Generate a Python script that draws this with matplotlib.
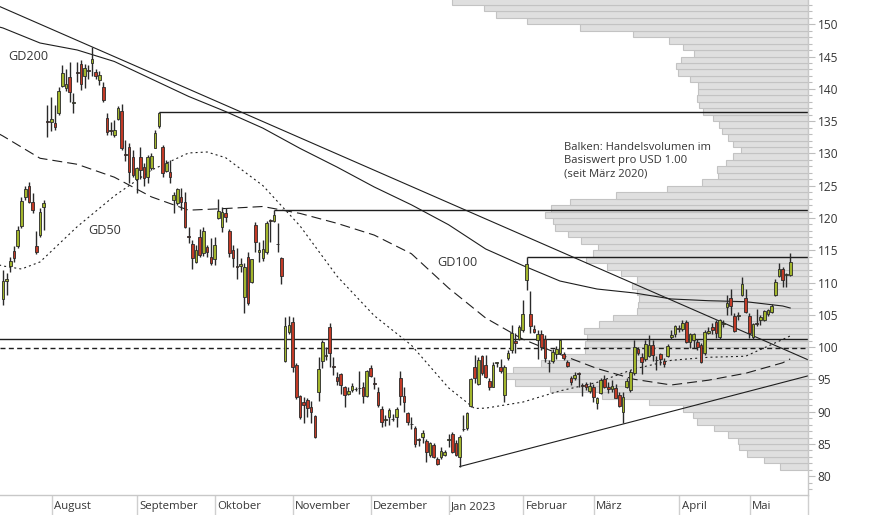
import numpy as np
import pandas as pd
import matplotlib
matplotlib.use("Agg")
import matplotlib.pyplot as plt

plt.rcParams['font.family'] = ['Open Sans', 'DejaVu Sans']

# trading days shown (US calendar)
holidays = ["2022-09-05", "2022-11-24", "2022-12-26", "2023-01-02",
            "2023-01-16", "2023-02-20", "2023-04-07"]
dates = pd.bdate_range("2022-07-12", "2023-05-15", freq="C", holidays=holidays)

month_labels = ["August", "September", "Oktober", "November", "Dezember",
                "Jan 2023", "Februar", "März", "April", "Mai"]

# daily candles
opens = [107.5, 110.2, 112.5, 114.9, 115.7, 118.7, 123.2, 125.0, 122.5, 115.7,
         117.3, 121.7, 135.0, 134.9, 134.7, 136.2, 140.5, 140.1, 141.9, 137.8,
         142.6, 143.9, 142.0, 142.9, 144.0, 142.6, 141.3, 140.3, 135.5, 133.6,
         132.9, 135.3, 136.5, 129.9, 131.05, 129.4, 126.0, 129.4, 127.85, 126.3,
         127.7, 130.9, 134.2, 130.95, 127.3, 127.2, 122.8, 122.3, 123.3, 122.4,
         117.2, 116.0, 113.2, 117.0, 114.53, 115.46, 114.0, 113.6, 119.95, 118.56,
         120.83, 118.04, 115.05, 112.6, 112.5, 107.82, 113.9, 110.14, 118.92, 114.8,
         113.86, 114.79, 119.6, 119.6, 115.95, 113.76, 97.9, 102.4, 103.85, 97.24,
         92.43, 91.56, 91.8, 90.68, 89.34, 93.0, 97.9, 98.6, 103.17, 97.0,
         95.33, 95.84, 93.88, 92.75, 93.36, 93.45, 93.6, 93.88, 92.49, 96.82,
         94.4, 93.0, 90.37, 88.7, 89.23, 88.85, 89.23, 95.17, 92.43, 89.75,
         88.1, 87.53, 85.65, 86.13, 85.46, 83.3, 84.84, 82.62, 82.93, 83.3,
         85.6, 86.54, 85.2, 83.04, 87.25, 87.42, 90.88, 96.97, 94.3, 98.63,
         97.23, 94.8, 93.88, 97.55, 96.97, 92.59, 98.26, 99.56, 101.0, 101.2,
         102.65, 110.4, 105.14, 102.81, 101.11, 102.04, 101.21, 97.55, 97.9, 98.94,
         99.15, 98.89, 97.75, 95.17, 95.17, 95.95, 94.0, 94.24, 93.21, 93.88,
         91.41, 92.84, 95.0, 93.87, 93.5, 93.72, 92.58, 90.0, 93.87, 93.36,
         95.94, 99.71, 98.42, 98.1, 98.68, 100.33, 98.05, 98.94, 97.9, 98.63,
         101.52, 102.03, 102.95, 102.76, 103.94, 100.84, 101.1, 100.84, 100.33, 99.04,
         102.14, 103.17, 103.94, 101.62, 103.65, 106.16, 107.55, 104.82, 104.8, 108.07,
         107.55, 104.82, 101.52, 103.7, 104.2, 104.2, 105.13, 105.49, 108.07, 111.01,
         112.05, 111.15, 111.17]
highs = [112.0, 111.5, 114.0, 115.6, 118.7, 123.3, 125.0, 125.5, 123.8, 118.0,
         121.5, 122.8, 137.5, 138.8, 137.5, 140.3, 143.7, 143.0, 144.1, 139.3,
         144.2, 144.5, 143.85, 143.7, 146.5, 143.0, 142.7, 141.0, 136.2, 134.9,
         135.2, 137.3, 137.7, 132.1, 131.6, 130.5, 127.95, 131.05, 128.5, 129.8,
         130.0, 133.7, 136.37, 131.3, 129.0, 129.0, 124.1, 124.7, 124.6, 124.1,
         118.65, 116.6, 115.8, 118.25, 118.66, 115.8, 116.85, 117.1, 122.9, 121.76,
         121.5, 118.25, 115.8, 115.3, 113.76, 113.1, 114.8, 113.7, 119.4, 116.34,
         116.6, 119.6, 119.85, 121.24, 119.28, 114.0, 104.7, 104.8, 104.7, 97.6,
         92.59, 92.33, 92.1, 91.7, 89.5, 98.5, 101.1, 99.97, 103.79, 98.53,
         96.2, 96.05, 93.98, 93.9, 94.5, 93.8, 96.3, 94.65, 96.5, 97.24,
         95.43, 93.88, 90.9, 89.5, 90.5, 89.6, 90.7, 96.3, 93.77, 90.0,
         89.2, 87.8, 86.0, 87.2, 85.7, 85.36, 85.1, 83.04, 84.5, 84.1,
         86.5, 86.9, 85.6, 86.4, 89.5, 90.0, 95.2, 98.78, 98.5, 98.8,
         98.78, 95.17, 97.7, 97.75, 98.1, 97.23, 99.5, 103.43, 102.14, 103.4,
         107.3, 114.0, 108.75, 103.4, 102.66, 102.66, 101.9, 98.0, 99.7, 100.1,
         101.2, 99.3, 98.0, 95.53, 96.2, 96.2, 94.4, 94.65, 94.65, 94.3,
         92.33, 95.2, 95.68, 94.65, 94.9, 94.3, 93.1, 93.1, 95.2, 96.45,
         101.1, 99.97, 99.04, 101.1, 101.9, 101.1, 98.6, 99.14, 98.3, 100.5,
         102.65, 103.4, 103.43, 104.2, 104.2, 102.14, 102.14, 101.2, 100.59, 102.65,
         103.17, 103.68, 104.2, 104.3, 104.2, 108.07, 108.95, 105.33, 105.5, 110.91,
         108.95, 105.23, 103.79, 105.85, 104.97, 105.75, 105.9, 106.7, 110.5, 113.08,
         112.36, 111.53, 114.63]
lows = [106.5, 108.0, 111.7, 113.2, 115.3, 118.4, 122.8, 122.3, 120.7, 114.5,
        117.1, 118.1, 132.5, 133.5, 133.7, 136.0, 140.3, 139.6, 137.9, 136.2,
        141.1, 139.8, 140.1, 141.5, 142.0, 141.5, 140.6, 138.0, 132.9, 132.9,
        132.6, 135.2, 130.5, 128.9, 125.4, 126.4, 123.8, 126.1, 124.9, 125.4,
        127.4, 130.8, 134.0, 126.4, 127.2, 125.4, 120.7, 122.0, 121.2, 118.4,
        116.1, 112.05, 113.0, 114.0, 114.1, 114.0, 112.7, 112.7, 119.8, 117.9,
        119.4, 114.0, 112.36, 110.5, 111.7, 105.34, 106.5, 110.0, 114.79, 113.24,
        113.4, 114.5, 116.34, 119.43, 114.79, 109.78, 97.75, 102.1, 96.2, 91.9,
        88.82, 88.2, 89.2, 88.2, 85.9, 91.7, 96.7, 98.0, 96.98, 95.69,
        94.14, 92.75, 90.68, 92.6, 93.1, 93.2, 92.75, 91.3, 92.3, 95.3,
        93.47, 90.78, 87.7, 87.8, 87.9, 88.6, 87.7, 91.04, 90.0, 87.94,
        87.27, 84.6, 84.7, 85.1, 82.26, 83.0, 82.8, 81.75, 82.62, 83.1,
        84.59, 83.66, 83.1, 81.5, 87.06, 87.2, 90.7, 94.4, 94.1, 95.7,
        95.17, 93.36, 93.8, 96.9, 96.05, 91.56, 98.0, 99.04, 99.04, 101.1,
        102.4, 108.85, 102.14, 102.2, 98.12, 99.56, 97.75, 96.2, 97.5, 98.1,
        98.9, 98.0, 97.0, 94.14, 94.9, 93.88, 92.44, 93.3, 92.85, 91.56,
        90.37, 92.7, 93.6, 92.84, 93.1, 92.1, 90.78, 88.2, 93.6, 93.1,
        95.7, 98.78, 95.78, 97.9, 98.5, 97.9, 96.46, 97.2, 96.9, 98.5,
        101.2, 101.6, 102.4, 102.55, 100.59, 99.81, 99.81, 99.55, 97.59, 98.78,
        102.03, 102.03, 101.36, 101.2, 103.17, 104.97, 104.97, 102.4, 104.2, 107.92,
        105.33, 101.36, 101.2, 103.27, 103.43, 104.1, 104.8, 105.3, 107.9, 110.81,
        109.36, 109.26, 111.01]
closes = [110.3, 110.6, 113.3, 113.8, 118.2, 122.6, 124.5, 122.4, 121.2, 114.8,
          120.9, 122.3, 134.9, 135.3, 134.1, 139.6, 142.4, 140.8, 139.5, 137.9,
          142.5, 140.7, 143.2, 142.8, 144.7, 142.0, 142.15, 138.2, 133.3, 133.5,
          133.7, 137.1, 130.8, 129.8, 127.2, 126.7, 127.7, 127.5, 126.25, 129.4,
          129.6, 133.1, 136.3, 126.9, 128.5, 126.3, 123.5, 124.5, 122.4, 118.6,
          117.1, 113.75, 115.05, 114.27, 117.94, 114.79, 112.98, 115.82, 121.14, 120.93,
          120.2, 114.53, 113.76, 112.4, 112.9, 112.36, 106.9, 113.6, 116.34, 115.0,
          115.15, 119.28, 119.55, 120.47, 115.9, 111.02, 103.28, 103.43, 96.87, 92.23,
          89.23, 91.04, 90.52, 90.0, 86.14, 96.57, 100.75, 98.7, 99.04, 96.95,
          94.81, 94.14, 92.59, 93.21, 94.04, 93.55, 93.65, 92.43, 96.36, 95.53,
          94.35, 91.04, 88.36, 88.75, 90.27, 88.8, 90.42, 92.48, 91.55, 88.46,
          88.05, 85.0, 85.6, 86.65, 83.8, 85.1, 83.04, 81.9, 83.97, 83.8,
          85.65, 83.8, 83.3, 86.13, 87.3, 89.75, 95.06, 95.17, 98.0, 96.05,
          95.43, 93.77, 97.23, 97.6, 96.36, 96.97, 99.14, 102.14, 100.6, 103.17,
          105.13, 112.88, 103.28, 102.3, 102.04, 100.08, 98.27, 97.5, 99.3, 99.67,
          101.11, 98.27, 97.14, 94.55, 95.69, 95.9, 93.95, 93.78, 93.98, 92.33,
          92.08, 94.9, 93.87, 93.51, 93.97, 92.17, 90.88, 92.33, 94.75, 96.2,
          100.07, 99.04, 97.75, 100.48, 100.33, 98.78, 97.95, 98.1, 97.38, 100.17,
          101.88, 103.27, 102.88, 103.79, 100.84, 101.98, 101.98, 99.97, 97.75, 102.29,
          102.55, 102.65, 102.24, 104.2, 103.7, 106.88, 106.37, 102.55, 104.85, 109.77,
          105.49, 102.14, 103.58, 103.65, 104.61, 105.65, 105.75, 106.42, 110.14, 112.05,
          110.4, 111.2, 113.23]

# moving averages (day index, value)
gd200_idx = [-1, 0, 10, 20, 30, 40, 50, 60, 70, 80, 90, 100, 110, 120, 130,
             140, 150, 160, 170, 180, 190, 200, 210, 212]
gd200_val = [149.58, 149.43, 147.1, 146.02, 144.24, 141.53, 138.83, 136.48, 133.92,
             130.78, 127.88, 124.8, 122.04, 118.96, 115.2, 112.64, 110.24, 109.0,
             108.39, 107.46, 107.19, 107.04, 106.37, 106.06]
gd100_idx = gd200_idx
gd100_val = [133.01, 132.7, 129.25, 128.32, 126.32, 123.27, 121.21, 121.47, 121.78,
             120.71, 119.17, 117.35, 114.47, 109.16, 104.51, 101.23, 98.88, 96.69,
             95.02, 94.14, 94.88, 95.95, 97.58, 98.17]
gd50_idx = [-1, 0, 5, 10, 20, 30, 40, 50, 55, 60, 70, 80, 90, 100, 110, 120, 127,
            130, 140, 150, 160, 170, 180, 190, 200, 210, 212]
gd50_val = [112.73, 112.57, 112.1, 113.19, 118.65, 123.41, 127.42, 130.07, 130.22,
            129.33, 125.02, 118.78, 110.97, 104.87, 100.3, 93.7, 90.5, 90.55, 91.49,
            93.22, 94.54, 96.62, 97.96, 98.43, 98.59, 101.19, 101.73]

# horizontal levels and where they start (day index)
levels = [136.37, 121.24, 114.0, 101.26]
level_start = [42, 73, 141, -1]
dashed_level = 99.85

# trend lines (day index, value)
trend_hi_x = [-0.78, 216.8]
trend_hi_y = [152.73, 98.04]
trend_lo_x = [123, 216.8]
trend_lo_y = [81.5, 95.55]

# volume profile, 1 USD bins (lower edge), bar length
profile_lo = list(range(81, 154))
profile_vol = [28, 44, 61, 69, 70, 80, 94, 111, 115, 125,
               159, 206, 258, 293, 302, 295, 267, 243, 223, 223,
               221, 224, 209, 195, 171, 170, 169, 171, 176, 171,
               187, 201, 222, 215, 210, 227, 240, 253, 255, 263,
               257, 238, 192, 141, 106, 90, 91, 82, 75, 67,
               75, 80, 86, 89, 95, 105, 109, 111, 110, 110,
               118, 130, 132, 127, 114, 125, 139, 175, 228, 281,
               312, 324, 356]

x = np.arange(len(dates))
x_left, x_right = -0.78, 216.8
txt = '#363636'
ink = '#1e1e1e'

fig = plt.figure(figsize=(8.74, 5.15), dpi=100)
ax = fig.add_axes([0, 20 / 515, 808 / 874, 495 / 515])
ax2 = ax.twiny()
ax.set_zorder(2)
ax.patch.set_visible(False)
ax2.set_zorder(1)

# volume profile from the right edge
ax2.barh(profile_lo, profile_vol, height=1, align='edge', color='#dfdfdf',
         edgecolor='#c3c3c3', linewidth=0.8)
ax2.set_xlim(808, 0)
ax2.axis('off')

# levels
ax.hlines(levels, level_start, x_right, color=ink, lw=1.0, zorder=2)
ax.axhline(dashed_level, color=ink, lw=1.0, ls=(0, (3.6, 2.4)), zorder=2)
ax.plot(trend_hi_x, trend_hi_y, color=ink, lw=0.8, zorder=2)
ax.plot(trend_lo_x, trend_lo_y, color=ink, lw=0.8, zorder=2)

# moving averages
ax.plot(gd200_idx, gd200_val, color=ink, lw=0.8, zorder=2)
ax.plot(gd100_idx, gd100_val, color=ink, lw=0.8, ls=(0, (9, 4.5)), zorder=2)
ax.plot(gd50_idx, gd50_val, color=ink, lw=0.8, ls=(0, (1.8, 2.8)), zorder=2)

# candles
o = np.array(opens)
c = np.array(closes)
up = c >= o
colors = np.where(up, '#a2b52c', '#c23a26')
ax.vlines(x, lows, highs, color='#2a2a2a', lw=1.0, zorder=3)
body_lo = np.minimum(o, c)
body_h = np.maximum(np.abs(c - o), 0.12)
ax.bar(x, body_h, bottom=body_lo, width=0.72, color=colors,
       edgecolor='#2a2a2a', linewidth=0.6, zorder=4)

# labels
ax.text(1.37, 144.94, "GD200", fontsize=9.1, color=txt, va='center', ha='left')
ax.text(22.9, 118.14, "GD50", fontsize=9.1, color=txt, va='center', ha='left')
ax.text(116.9, 113.11, "GD100", fontsize=9.1, color=txt, va='center', ha='left')
ax.text(151.1, 131.75, "Balken: Handelsvolumen im\nBasiswert pro USD 1.00\n(seit März 2020)",
        fontsize=8.1, color=txt, va='top', ha='left', linespacing=1.25)

ax.set_xlim(x_left, x_right)
ax.set_ylim(77.1, 153.76)

# y axis on the right
ax.yaxis.tick_right()
ax.set_yticks(range(80, 151, 5))
ax.set_yticks(range(78, 154), minor=True)
ax.tick_params(axis='y', which='major', length=5, width=0.8, color='#bdbdbd',
               labelsize=8.6, labelcolor=txt, pad=2)
ax.tick_params(axis='y', which='minor', length=3, width=0.8, color='#bdbdbd')

# month ticks
months = pd.Series(dates.month)
starts = list(np.where(months.values[1:] != months.values[:-1])[0] + 1)
tick_pos = [s - 0.86 for s in starts]
ax.set_xticks(tick_pos + [x_right])
ax.tick_params(axis='x', length=14.4, width=1, color='#cfcfcf', labelbottom=False)
for pos, lab in zip(tick_pos, month_labels):
    ax.annotate(lab, xy=(pos, 0), xycoords=('data', 'axes fraction'),
                xytext=(1.6, -8.6), textcoords='offset points', fontsize=8.2,
                color=txt, ha='left', va='center')

for side in ['top', 'left']:
    ax.spines[side].set_visible(False)
for side in ['right', 'bottom']:
    ax.spines[side].set_color('#c8c8c8')
    ax.spines[side].set_linewidth(1)

fig.savefig("out.png", dpi=100)
